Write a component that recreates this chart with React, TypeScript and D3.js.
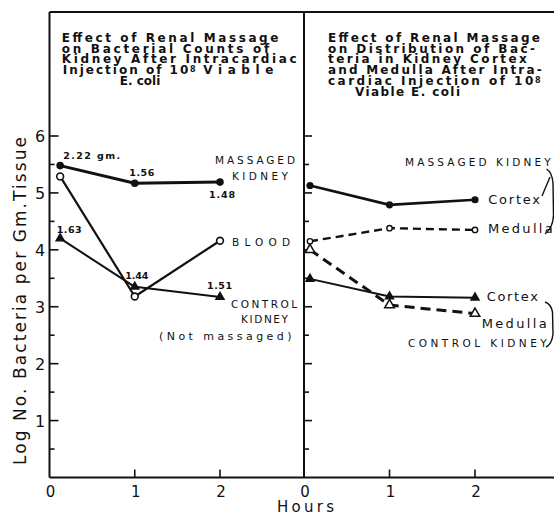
import React from "react";
import * as d3 from "d3";

// ---------- data ----------
const hourTicks = [0, 1, 2];
const yTicks = [1, 2, 3, 4, 5, 6];
const yMinorTicks = [0.5, 1.5, 2.5, 3.5, 4.5, 5.5];

// left panel
const leftHours = [0.125, 1, 2];
const massagedKidney = [5.48, 5.17, 5.19];
const blood = [5.29, 3.18, 4.16];
const controlKidney = [4.2, 3.35, 3.17];
const massagedWeights = ["2.22 gm.", "1.56", "1.48"];
const controlWeights = ["1.63", "1.44", "1.51"];

// right panel
const rightHours = [0.07, 1, 2];
const massagedCortex = [5.13, 4.79, 4.88];
const massagedMedulla = [4.15, 4.38, 4.35];
const controlCortex = [3.49, 3.18, 3.16];
const controlMedulla = [4.0, 3.03, 2.88];

const leftTitle = [
  "Effect of Renal Massage",
  "on Bacterial Counts of",
  "Kidney After Intracardiac",
];
const rightTitle = [
  "Effect of Renal Massage",
  "on Distribution of Bac-",
  "teria in Kidney Cortex",
  "and Medulla After Intra-",
];

// ---------- layout ----------
const W = 554;
const H = 514;
const xL = d3.scaleLinear().domain([0, 2]).range([49.5, 220]);
const xR = d3.scaleLinear().domain([0, 2]).range([304, 475]);
const y = d3.scaleLinear().domain([0, 6]).range([477.5, 136]);
const TOP = 12;

const INK = "#111";
const TITLE_FONT = "'DejaVu Sans', sans-serif";
const LABEL_FONT = "'DejaVu Sans', sans-serif";
const TITLE_SIZE = 12;
const TITLE_WEIGHT = "bold";

const leftTitleW = [216.7, 207.6, 235];
const rightTitleW = [212, 207, 198.7, 213.7];
const titleBase = [41.7, 52.5, 63.3, 74, 85, 95.7];

const massagedOff = [
  { dx: 3, dy: -7, w: 57, anchor: "start" },
  { dx: 7, dy: -7, w: 25, anchor: "middle" },
  { dx: 2, dy: 16, w: 26, anchor: "middle" },
];
const controlOff = [
  { dx: 9, dy: -5, w: 25, anchor: "middle" },
  { dx: 2, dy: -8, w: 23, anchor: "middle" },
  { dx: -0.5, dy: -8, w: 25, anchor: "middle" },
];

function pts(xs: number[], vs: number[], xs2: d3.ScaleLinear<number, number>) {
  return vs.map((v, i) => [xs2(xs[i]), y(v)] as [number, number]);
}

const line = d3.line<[number, number]>().x((d) => d[0]).y((d) => d[1]);
const tri = d3.symbol().type(d3.symbolTriangle).size(48)() as string;
const triOpen = d3.symbol().type(d3.symbolTriangle).size(40)() as string;

function T(props: {
  x: number;
  y: number;
  w?: number;
  size: number;
  anchor?: string;
  weight?: string;
  family?: string;
  children: React.ReactNode;
}) {
  const { x, y: yy, w, size, anchor, weight, family, children } = props;
  return (
    <text
      x={x}
      y={yy}
      fontSize={size}
      fontFamily={family || LABEL_FONT}
      fontWeight={weight || "normal"}
      textAnchor={anchor || "start"}
      fill={INK}
      {...(w ? { textLength: w, lengthAdjust: "spacing" } : {})}
    >
      {children}
    </text>
  );
}

function TT(props: {
  x: number;
  y: number;
  w?: number;
  size?: number;
  anchor?: string;
  children: React.ReactNode;
}) {
  return (
    <T
      x={props.x}
      y={props.y}
      w={props.w}
      size={props.size || TITLE_SIZE}
      weight={TITLE_WEIGHT}
      family={TITLE_FONT}
      anchor={props.anchor}
    >
      {props.children}
    </T>
  );
}

export default function App() {
  const mk = pts(leftHours, massagedKidney, xL);
  const bl = pts(leftHours, blood, xL);
  const ck = pts(leftHours, controlKidney, xL);
  const mc = pts(rightHours, massagedCortex, xR);
  const mm = pts(rightHours, massagedMedulla, xR);
  const cc = pts(rightHours, controlCortex, xR);
  const cm = pts(rightHours, controlMedulla, xR);

  return (
    <svg
      width={W}
      height={H}
      style={{ position: "absolute", left: 0, top: 0, background: "#fff" }}
    >
      <rect x={0} y={0} width={W} height={H} fill="#fff" />
      {/* frame */}
      <g stroke={INK} strokeWidth={2} fill="none">
        <line x1={xL(0)} x2={W} y1={TOP} y2={TOP} />
        <line x1={xL(0)} x2={xL(0)} y1={TOP} y2={y(0)} />
        <line x1={xR(0)} x2={xR(0)} y1={TOP} y2={y(0)} />
        <line x1={xL(0)} x2={W} y1={y(0)} y2={y(0)} />
      </g>
      {/* ticks */}
      <g stroke={INK} strokeWidth={1.6}>
        {yTicks.map((t) => (
          <g key={"yt" + t}>
            <line x1={xL(0)} x2={xL(0) + 9} y1={y(t)} y2={y(t)} />
            <line x1={xR(0)} x2={xR(0) + 8} y1={y(t)} y2={y(t)} />
          </g>
        ))}
        {yMinorTicks.map((t) => (
          <g key={"ym" + t}>
            <line x1={xL(0)} x2={xL(0) + 5} y1={y(t)} y2={y(t)} />
            <line x1={xR(0)} x2={xR(0) + 5} y1={y(t)} y2={y(t)} />
          </g>
        ))}
        {hourTicks.slice(1).map((h) => (
          <g key={"xt" + h}>
            <line x1={xL(h)} x2={xL(h)} y1={y(0)} y2={y(0) - 8} />
            <line x1={xR(h)} x2={xR(h)} y1={y(0)} y2={y(0) - 8} />
          </g>
        ))}
      </g>
      {/* tick labels */}
      {yTicks.map((t) => (
        <T key={"yl" + t} x={40} y={y(t) + 6} size={16} anchor="middle">
          {t}
        </T>
      ))}
      {hourTicks.map((h) => (
        <g key={"xl" + h}>
          <T x={xL(h) + 1} y={496.5} size={15} anchor="middle">
            {h}
          </T>
          <T x={xR(h) + 1} y={496.5} size={15} anchor="middle">
            {h}
          </T>
        </g>
      ))}
      <T x={305.5} y={511.5} size={15} anchor="middle" w={57}>
        Hours
      </T>
      <text
        transform={`translate(26,301) rotate(-90)`}
        fontSize={17}
        fontFamily={LABEL_FONT}
        textAnchor="middle"
        fill={INK}
        textLength={328}
        lengthAdjust="spacing"
      >
        Log No. Bacteria per Gm.Tissue
      </text>

      {/* titles */}
      {leftTitle.map((s, i) => (
        <TT key={"lt" + i} x={61.7} y={titleBase[i]} w={leftTitleW[i]}>
          {s}
        </TT>
      ))}
      <TT x={62.7} y={titleBase[3]} w={125.6}>
        Injection of 10
      </TT>
      <TT x={190} y={titleBase[3] - 2.5} size={8}>
        8
      </TT>
      <TT x={203.3} y={titleBase[3]} w={70}>
        Viable
      </TT>
      <TT x={140} y={titleBase[4]} anchor="middle">
        E. coli
      </TT>
      {rightTitle.map((s, i) => (
        <TT key={"rt" + i} x={328} y={titleBase[i]} w={rightTitleW[i]}>
          {s}
        </TT>
      ))}
      <TT x={328} y={titleBase[4]} w={205.3}>
        cardiac Injection of 10
      </TT>
      <TT x={535} y={titleBase[4] - 2.5} size={8}>
        8
      </TT>
      <TT x={355} y={titleBase[5]} w={105}>
        Viable E. coli
      </TT>

      {/* left panel lines */}
      <g fill="none" stroke={INK} strokeLinejoin="round">
        <path d={line(mk) as string} strokeWidth={3} />
        <path d={line(bl) as string} strokeWidth={2.2} />
        <path d={line(ck) as string} strokeWidth={2} />
      </g>
      {mk.map((p, i) => (
        <circle key={"mk" + i} cx={p[0]} cy={p[1]} r={3.8} fill={INK} />
      ))}
      {bl.map((p, i) => (
        <circle key={"bl" + i} cx={p[0]} cy={p[1]} r={3.4} fill="#fff" stroke={INK} strokeWidth={1.6} />
      ))}
      {ck.map((p, i) => (
        <path key={"ck" + i} d={tri} transform={`translate(${p[0]},${p[1]})`} fill={INK} />
      ))}
      {mk.map((p, i) => (
        <T
          key={"mw" + i}
          x={p[0] + massagedOff[i].dx}
          y={p[1] + massagedOff[i].dy}
          size={9.5}
          weight="bold"
          anchor={massagedOff[i].anchor}
          w={massagedOff[i].w}
        >
          {massagedWeights[i]}
        </T>
      ))}
      {ck.map((p, i) => (
        <T
          key={"cw" + i}
          x={p[0] + controlOff[i].dx}
          y={p[1] + controlOff[i].dy}
          size={9.5}
          weight="bold"
          anchor={controlOff[i].anchor}
          w={controlOff[i].w}
        >
          {controlWeights[i]}
        </T>
      ))}
      <T x={215} y={164} size={10.5} w={80}>MASSAGED</T>
      <T x={232} y={179.5} size={10.5} w={56}>KIDNEY</T>
      <T x={232} y={245.5} size={10.5} w={58}>BLOOD</T>
      <T x={231} y={308} size={10.5} w={66}>CONTROL</T>
      <T x={241} y={323} size={10.5} w={47}>KIDNEY</T>
      <T x={159} y={340} size={11} w={132.5}>(Not massaged)</T>

      {/* right panel lines */}
      <g fill="none" stroke={INK} strokeLinejoin="round">
        <path d={line(mc) as string} strokeWidth={2.6} />
        <path d={line(mm) as string} strokeWidth={2.4} strokeDasharray="8,5" />
        <path d={line(cc) as string} strokeWidth={2} />
        <path d={line(cm) as string} strokeWidth={3} strokeDasharray="10,6" />
      </g>
      {mc.map((p, i) => (
        <circle key={"mc" + i} cx={p[0]} cy={p[1]} r={3.6} fill={INK} />
      ))}
      {mm.map((p, i) => (
        <circle key={"mm" + i} cx={p[0]} cy={p[1]} r={2.7} fill="#fff" stroke={INK} strokeWidth={1.4} />
      ))}
      {cc.map((p, i) => (
        <path key={"cc" + i} d={tri} transform={`translate(${p[0]},${p[1]})`} fill={INK} />
      ))}
      {cm.map((p, i) => (
        <path
          key={"cm" + i}
          d={triOpen}
          transform={`translate(${p[0]},${p[1]})`}
          fill="#fff"
          stroke={INK}
          strokeWidth={1.5}
        />
      ))}
      <T x={405} y={166} size={10.5} w={145.7}>MASSAGED KIDNEY</T>
      <T x={488.3} y={204} size={13} w={51.7}>Cortex</T>
      <T x={488} y={233} size={13} w={64.7}>Medulla</T>
      <T x={486.7} y={301} size={13} w={51.3}>Cortex</T>
      <T x={481.7} y={327.7} size={13} w={65}>Medulla</T>
      <T x={408} y={347} size={10.5} w={138.7}>CONTROL KIDNEY</T>

      {/* braces */}
      <g fill="none" stroke={INK} strokeWidth={1.4}>
        <path d="M546.5,169 Q552,172 553,183 L553.5,215 Q553,228 545,234" />
        <path d="M542,196 L550,177" />
        <path d="M545,302 Q551,304 552.5,312 L553,334 Q552,344 546,347" />
      </g>
    </svg>
  );
}
